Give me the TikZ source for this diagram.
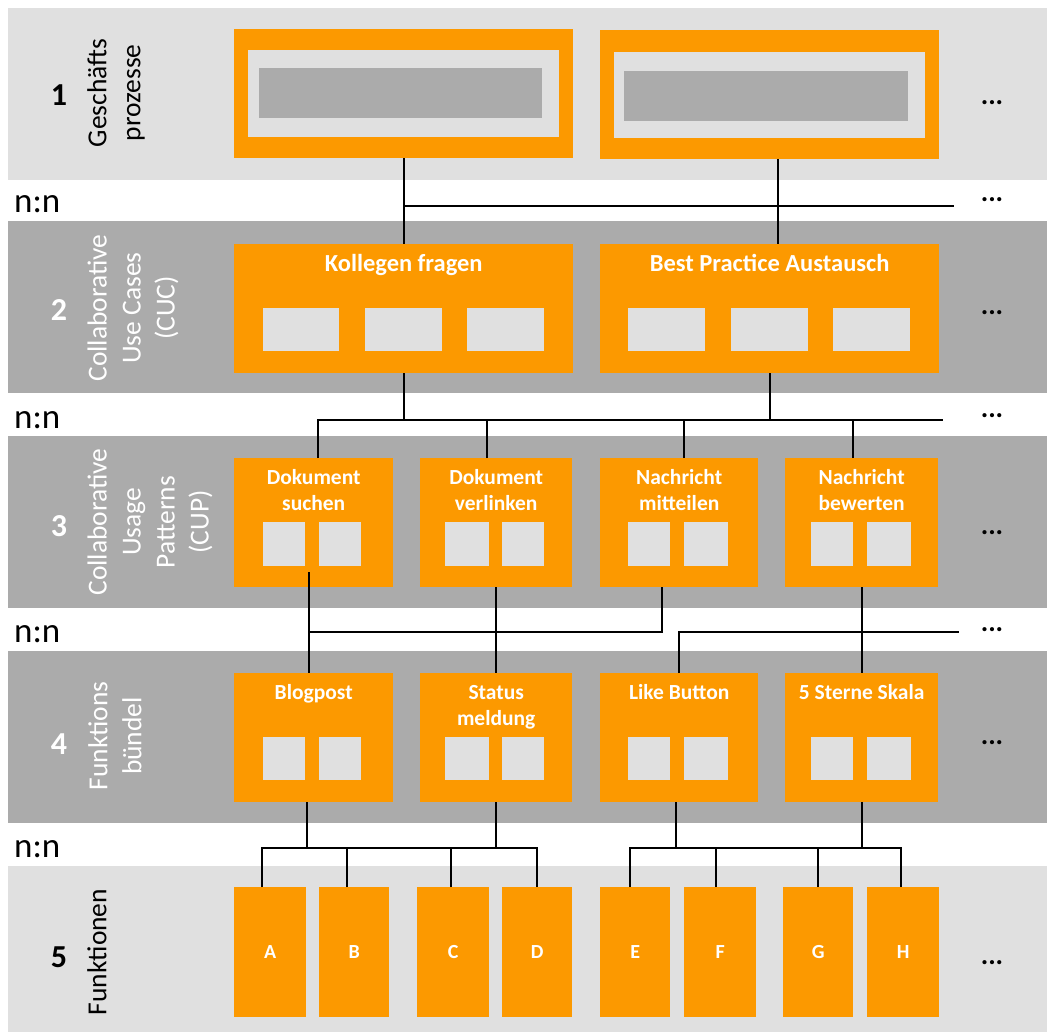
\documentclass[tikz,border=0pt]{standalone}
\usepackage{fontspec}
\setmainfont{Carlito}
\definecolor{orng}{RGB}{252,153,0}
\definecolor{lgray}{RGB}{224,224,224}
\definecolor{dgray}{RGB}{171,171,171}
\newcommand{\graysq}[4]{\fill[lgray] (#1,#2) rectangle (#3,#4);}
\begin{document}
\begin{tikzpicture}[x=1pt,y=-1pt,
  obox/.style={fill=orng,anchor=north west,inner sep=0pt,minimum height=129pt},
  fbox/.style={fill=orng,anchor=north west,inner sep=0pt,minimum height=130pt,
    text=white,font=\fontsize{20}{24}\selectfont\bfseries},
  conn/.style={draw=black,line width=1.9pt},
  ttlL/.style={text=white,font=\fontsize{24.5}{29}\selectfont\bfseries,inner sep=0pt,anchor=base},
  ttl/.style={text=white,font=\fontsize{21.5}{26}\selectfont\bfseries,inner sep=0pt,align=center},
  num/.style={font=\fontsize{32}{36}\selectfont\bfseries,inner sep=0pt},
  side/.style={rotate=90,align=center,inner sep=0pt,font=\fontsize{27.5}{34}\selectfont},
  nn/.style={font=\fontsize{35}{40}\selectfont,inner sep=0pt,anchor=base west},
  more/.style={font=\fontsize{28}{32}\selectfont\bfseries,inner sep=0pt,anchor=base},
]
\useasboundingbox (0,0) rectangle (1047,1032);
\fill[white] (0,0) rectangle (1047,1032);

% layer bands
\fill[lgray] (8,8) rectangle (1047,180);
\fill[dgray] (8,221) rectangle (1047,393);
\fill[dgray] (8,436) rectangle (1047,608);
\fill[dgray] (8,651) rectangle (1047,823);
\fill[lgray] (8,866) rectangle (1047,1032);

% layer labels
\node[num] (n1) at (59,95) {1};
\node[side] (l1) at (116,93) {Geschäfts\\prozesse};
\node[num,text=white] (n2) at (59,310) {2};
\node[side,text=white] (l2) at (133,308) {Collaborative\\Use Cases\\(CUC)};
\node[num,text=white] (n3) at (59,526) {3};
\node[side,text=white] (l3) at (150,522) {Collaborative\\Usage\\Patterns\\(CUP)};
\node[num,text=white] (n4) at (59,744) {4};
\node[side,text=white] (l4) at (115,736) {Funktions\\bündel};
\node[num] (n5) at (59,957) {5};
\node[side] (l5) at (97,952) {Funktionen};

% n:n between layers
\node[nn] (r1) at (14,213) {n:n};
\node[nn] (r2) at (14,428) {n:n};
\node[nn] (r3) at (14,642) {n:n};
\node[nn] (r4) at (14,857) {n:n};

% continuation marks
\foreach \yy [count=\i] in {103,200,313,415,532,629,742,962}
  \node[more] (m\i) at (992,\yy+2) {...};

% 1: business processes
\node[obox,minimum width=339pt] (p1) at (234,29) {};
\node[obox,minimum width=339pt] (p2) at (600,30) {};
\fill[lgray] (248,50) rectangle (559,137);
\fill[dgray] (259,68) rectangle (542,118);
\fill[lgray] (614,52) rectangle (925,138);
\fill[dgray] (624,71) rectangle (908,121);

% 2: collaborative use cases
\node[obox,minimum width=339pt] (c1) at (234,244) {};
\node[obox,minimum width=339pt] (c2) at (600,244) {};
\node[ttlL] (c1t) at (c1.north |- 0,272) {Kollegen fragen};
\node[ttlL] (c2t) at (c2.north |- 0,272) {Best Practice Austausch};
\graysq{263}{308}{339}{351}\graysq{365}{308}{442}{351}\graysq{467}{308}{544}{351}
\graysq{628}{308}{705}{351}\graysq{731}{308}{808}{351}\graysq{833}{308}{910}{351}

% 3: collaborative usage patterns
\node[obox,minimum width=159pt] (u1) at (234,458) {};
\node[obox,minimum width=152pt] (u2) at (420,458) {};
\node[obox,minimum width=158pt] (u3) at (600,458) {};
\node[obox,minimum width=153pt] (u4) at (785,458) {};
\node[ttl] (u1t) at (u1.north |- 0,490) {Dokument\\suchen};
\node[ttl] (u2t) at (u2.north |- 0,490) {Dokument\\verlinken};
\node[ttl] (u3t) at (u3.north |- 0,490) {Nachricht\\mitteilen};
\node[ttl] (u4t) at (u4.north |- 0,490) {Nachricht\\bewerten};
\graysq{263}{522}{305}{566}\graysq{319}{522}{361}{566}
\graysq{445}{522}{489}{566}\graysq{502}{522}{544}{566}
\graysq{628}{522}{670}{566}\graysq{684}{522}{728}{566}
\graysq{811}{522}{853}{566}\graysq{867}{522}{911}{566}

% 4: function bundles
\node[obox,minimum width=159pt] (f1) at (234,673) {};
\node[obox,minimum width=152pt] (f2) at (420,673) {};
\node[obox,minimum width=158pt] (f3) at (600,673) {};
\node[obox,minimum width=153pt] (f4) at (785,673) {};
\node[ttl,anchor=base] (f1t) at (f1.north |- 0,699) {Blogpost};
\node[ttl] (f2t) at (f2.north |- 0,707) {Status\\meldung};
\node[ttl,anchor=base] (f3t) at (f3.north |- 0,699) {Like Button};
\node[ttl,anchor=base] (f4t) at (f4.north |- 0,699) {5 Sterne Skala};
\graysq{263}{737}{305}{780}\graysq{319}{737}{361}{780}
\graysq{445}{737}{489}{780}\graysq{502}{737}{544}{780}
\graysq{628}{737}{670}{780}\graysq{684}{737}{728}{780}
\graysq{811}{737}{853}{780}\graysq{867}{737}{911}{780}

% 5: functions
\node[fbox,minimum width=72pt] (fa) at (234,887) {A};
\node[fbox,minimum width=70pt] (fb) at (319,887) {B};
\node[fbox,minimum width=72pt] (fc) at (417,887) {C};
\node[fbox,minimum width=70pt] (fd) at (502,887) {D};
\node[fbox,minimum width=70pt] (fe) at (600,887) {E};
\node[fbox,minimum width=72pt] (ff) at (684,887) {F};
\node[fbox,minimum width=70pt] (fg) at (783,887) {G};
\node[fbox,minimum width=72pt] (fh) at (867,887) {H};

% connectors 1 -> 2
\coordinate (b1e) at (954,206);
\draw[conn] (p1.south) -- (c1.north);
\draw[conn] (p1.south |- b1e) -- (b1e);
\coordinate (p2d) at ([xshift=8pt]p2.south);
\draw[conn] (p2d) -- (p2d |- c2.north);

% connectors 2 -> 3
\coordinate (b2e) at (943,420);
\draw[conn] (c1.south) -- (c1.south |- b2e);
\draw[conn] (c2.south) -- (c2.south |- b2e);
\coordinate (u1d) at ([xshift=4.5pt]u1.north);
\coordinate (u2d) at ([xshift=-9pt]u2.north);
\coordinate (u3d) at ([xshift=5pt]u3.north);
\coordinate (u4d) at ([xshift=-8.5pt]u4.north);
\draw[conn] (u1d) |- (b2e);
\foreach \d in {u2d,u3d,u4d} \draw[conn] (\d) -- (\d |- b2e);

% connectors 3 -> 4
\coordinate (b3e) at (959,632);
\coordinate (u1s) at ([shift={(-4.5,-15)}]u1.south);
\draw[conn] (u1s) -- (u1s |- f1.north);
\coordinate (u3s) at ([xshift=-17pt]u3.south);
\draw[conn] (u1s |- b3e) -| (u3s);
\draw[conn] (u2.south) -- (f2.north);
\draw[conn] (u4.south) -- (f4.north);
\draw[conn] (f3.north) |- (b3e);

% connectors 4 -> 5
\coordinate (b4) at (0,848);
\coordinate (f1s) at ([xshift=-6.5pt]f1.south);
\coordinate (f3s) at ([xshift=-3pt]f3.south);
\coordinate (xa) at ([xshift=-8pt]fa.north);
\coordinate (xb) at ([xshift=-7pt]fb.north);
\coordinate (xc) at ([xshift=-2pt]fc.north);
\coordinate (xe) at ([xshift=-5pt]fe.north);
\coordinate (xf) at ([xshift=-4pt]ff.north);
\coordinate (xh) at ([xshift=-2pt]fh.north);
\draw[conn] (f1s) -- (f1s |- b4);
\draw[conn] (f2.south) -- (f2.south |- b4);
\draw[conn] (xa) |- (fd.north |- b4) -- (fd.north);
\draw[conn] (xb) -- (xb |- b4);
\draw[conn] (xc) -- (xc |- b4);
\draw[conn] (f3s) -- (f3s |- b4);
\draw[conn] (f4.south) -- (f4.south |- b4);
\draw[conn] (xe) |- (xh |- b4) -- (xh);
\draw[conn] (xf) -- (xf |- b4);
\draw[conn] (fg.north) -- (fg.north |- b4);
\end{tikzpicture}
\end{document}
